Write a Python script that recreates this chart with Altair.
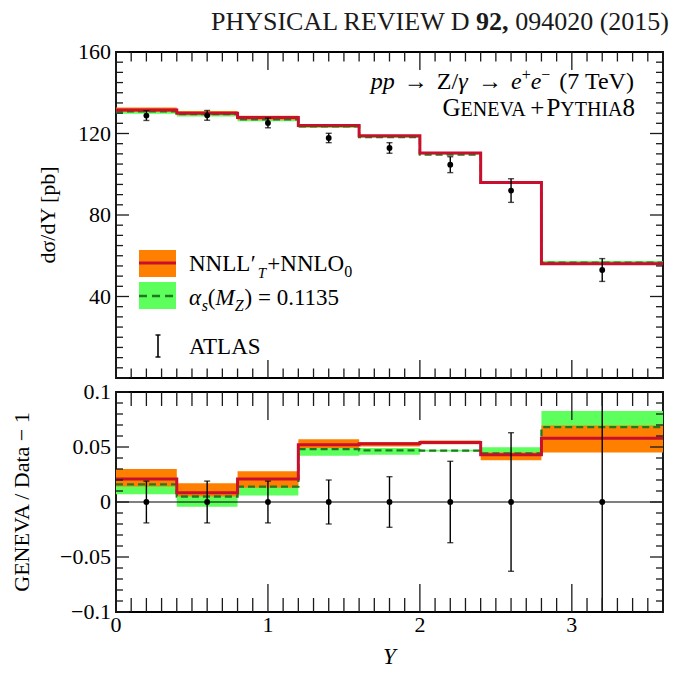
import altair as alt
import pandas as pd

# ---------------- data ----------------
BIN_EDGES = [0.0, 0.4, 0.8, 1.2, 1.6, 2.0, 2.4, 2.8, 3.6]
BIN_CENTERS = [0.2, 0.6, 1.0, 1.4, 1.8, 2.2, 2.6, 3.2]

ATLAS_XS = [128.8, 128.9, 125.2, 117.8, 112.9, 104.7, 92.0, 53.0]
ATLAS_XS_ERR = [2.4, 2.4, 2.4, 2.3, 2.6, 3.9, 5.8, 5.6]
ATLAS_REL_ERR = [0.019, 0.019, 0.019, 0.020, 0.023, 0.037, 0.063, 0.11]
ATLAS_RATIO = [0.0, 0.0, 0.0, 0.0, 0.0, 0.0, 0.0, 0.0]

NNLL_XS = [131.5, 130.0, 127.8, 123.9, 118.9, 110.4, 96.0, 56.1]
NNLL_XS_LO = [130.5, 129.4, 126.8, 123.5, 118.5, 110.1, 95.5, 55.4]
NNLL_XS_HI = [132.7, 131.1, 128.7, 124.5, 119.1, 110.6, 96.1, 56.7]
AS_XS = [130.9, 129.5, 127.0, 123.5, 118.2, 109.6, 96.0, 56.6]
AS_XS_LO = [129.7, 128.4, 126.0, 122.7, 117.8, 109.5, 95.9, 55.9]
AS_XS_HI = [131.9, 130.4, 127.7, 124.0, 118.4, 109.7, 96.6, 57.4]

NNLL_R = [0.021, 0.0085, 0.021, 0.052, 0.053, 0.054, 0.043, 0.058]
NNLL_R_LO = [0.014, 0.005, 0.013, 0.049, 0.0505, 0.0525, 0.038, 0.045]
NNLL_R_HI = [0.030, 0.017, 0.028, 0.057, 0.0545, 0.0558, 0.045, 0.0695]
AS_R = [0.016, 0.005, 0.014, 0.048, 0.047, 0.0467, 0.0442, 0.068]
AS_R_LO = [0.007, -0.0043, 0.006, 0.042, 0.043, 0.0458, 0.042, 0.055]
AS_R_HI = [0.024, 0.012, 0.020, 0.052, 0.049, 0.0476, 0.0497, 0.0827]

X_MAJOR = [0, 1, 2, 3]
X_LABELS = ["0", "1", "2", "3"]
X_MINOR = [round(i * 0.1, 1) for i in range(37) if i % 10 != 0]
Y1_MAJOR = [0, 40, 80, 120, 160]
Y1_LABEL_VALUES = [40, 80, 120, 160]
Y1_LABELS = ["40", "80", "120", "160"]
Y1_MINOR = [v for v in range(0, 161, 5) if v % 40 != 0]
Y2_MAJOR = [-0.1, -0.05, 0.0, 0.05, 0.1]
Y2_LABELS = ["−0.1", "−0.05", "0", "0.05", "0.1"]
Y2_MINOR = [round(i * 0.01, 2) for i in range(-10, 11) if i % 5 != 0]

# ---------------- style ----------------
W, H1, H2 = 547, 326, 220
FONT = "Liberation Serif"
ORANGE = "#ff8000"
GREEN = "#5cff5c"
RED = "#c8102e"
DKGREEN = "#1f7a1f"
INK = "#1a1a1a"

XS = alt.Scale(domain=[0, 3.6], nice=False, zero=False)
YS1 = alt.Scale(domain=[0, 160], nice=False, zero=False)
YS2 = alt.Scale(domain=[-0.1, 0.1], nice=False, zero=False)
ONE = pd.DataFrame({"a": [0]})

REG = {'N': .722, 'L': .611, 'O': .722, '+': .564, '(': .333, ')': .333, '=': .564,
       ' ': .25, '.': .25, 'A': .722, 'T': .611, 'S': .556, 'G': .722, 'E': .611,
       'V': .722, 'P': .556, 'Y': .722, 'H': .722, 'I': .333, 'Z': .611, '/': .278,
       'e': .444, '→': 1.0, '′': .3, '−': .564}
ITA = {'p': .5, 'e': .444, 'α': .55, 's': .389, 'M': .833, 'Z': .556, 'T': .556, 'γ': .45}


def tw(text, size, italic=False):
    table = ITA if italic else REG
    return sum(table.get(c, REG.get(c, .5)) for c in text) * size


def txt(text, x, y, size, italic=False, bold=False, align="left", color="black",
        baseline="alphabetic", angle=0):
    return alt.Chart(ONE).mark_text(
        text=text, font=FONT, fontSize=size, align=align, baseline=baseline, angle=angle,
        fontStyle="italic" if italic else "normal",
        fontWeight="bold" if bold else "normal", color=color,
    ).encode(x=alt.value(x), y=alt.value(y))


def run(parts, x0, y0):
    layers, x = [], x0
    for text, size, italic, dy, gap in parts:
        layers.append(txt(text, x, y0 + dy, size, italic))
        x += tw(text, size, italic) + gap
    return layers


def run_width(parts):
    return sum(tw(t, s, i) + g for t, s, i, d, g in parts)


def steps(cols):
    rows = []
    for i, e in enumerate(BIN_EDGES):
        j = min(i, len(BIN_CENTERS) - 1)
        row = {"x": e}
        for k, v in cols.items():
            row[k] = v[j]
        rows.append(row)
    return pd.DataFrame(rows)


def tick_layers(yscale, ymaj, ymin, H, lx_maj, lx_min, ly_maj=13, ly_min=7):
    layers = []
    for vals, L in ((X_MAJOR, lx_maj), (X_MINOR, lx_min)):
        base = alt.Chart(pd.DataFrame({"v": vals})).mark_rule(color=INK, strokeWidth=1.3)
        xe = alt.X("v:Q", scale=XS, axis=None)
        layers.append(base.encode(x=xe, y=alt.value(0), y2=alt.value(L)))
        layers.append(base.encode(x=xe, y=alt.value(H - L), y2=alt.value(H)))
    for vals, L in ((ymaj, ly_maj), (ymin, ly_min)):
        base = alt.Chart(pd.DataFrame({"v": vals})).mark_rule(color=INK, strokeWidth=1.3)
        ye = alt.Y("v:Q", scale=yscale, axis=None)
        layers.append(base.encode(y=ye, x=alt.value(0), x2=alt.value(L)))
        layers.append(base.encode(y=ye, x=alt.value(W - L), x2=alt.value(W)))
    return layers


def y_labels(values, labels, yscale):
    df = pd.DataFrame({"v": values, "t": labels})
    return alt.Chart(df).mark_text(font=FONT, fontSize=22, align="right", baseline="middle",
                                   color="black").encode(
        y=alt.Y("v:Q", scale=yscale, axis=None), x=alt.value(-5), text="t:N")


def x_labels(H):
    df = pd.DataFrame({"v": X_MAJOR, "t": X_LABELS})
    return alt.Chart(df).mark_text(font=FONT, fontSize=22, align="center", baseline="top",
                                   color="black").encode(
        x=alt.X("v:Q", scale=XS, axis=None), y=alt.value(H + 3), text="t:N")


def theory_layers(df, yscale):
    xe = alt.X("x:Q", scale=XS, axis=None)
    return [
        alt.Chart(df).mark_area(interpolate="step-after", color=GREEN, opacity=1, clip=True)
        .encode(x=xe, y=alt.Y("as_lo:Q", scale=yscale, axis=None), y2="as_hi:Q"),
        alt.Chart(df).mark_area(interpolate="step-after", color=ORANGE, opacity=1, clip=True)
        .encode(x=xe, y=alt.Y("nnll_lo:Q", scale=yscale, axis=None), y2="nnll_hi:Q"),
    ], [
        alt.Chart(df).mark_line(interpolate="step-after", color=DKGREEN, strokeWidth=2.3,
                                strokeDash=[7, 4], clip=True)
        .encode(x=xe, y=alt.Y("as:Q", scale=yscale, axis=None)),
        alt.Chart(df).mark_line(interpolate="step-after", color=RED, strokeWidth=3, clip=True)
        .encode(x=xe, y=alt.Y("nnll:Q", scale=yscale, axis=None)),
    ]


def data_layers(df, yscale):
    xe = alt.X("x:Q", scale=XS, axis=None)
    return [
        alt.Chart(df).mark_rule(color="black", strokeWidth=1.4, clip=True)
        .encode(x=xe, y=alt.Y("lo:Q", scale=yscale, axis=None), y2="hi:Q"),
        alt.Chart(df).mark_tick(orient="horizontal", size=6, thickness=1.4, color="black", clip=True)
        .encode(x=xe, y=alt.Y("lo:Q", scale=yscale, axis=None)),
        alt.Chart(df).mark_tick(orient="horizontal", size=6, thickness=1.4, color="black", clip=True)
        .encode(x=xe, y=alt.Y("hi:Q", scale=yscale, axis=None)),
        alt.Chart(df).mark_circle(size=34, color="black", opacity=1)
        .encode(x=xe, y=alt.Y("y:Q", scale=yscale, axis=None)),
    ]


# ---------------- top panel ----------------
top_df = steps({"nnll": NNLL_XS, "nnll_lo": NNLL_XS_LO, "nnll_hi": NNLL_XS_HI,
                "as": AS_XS, "as_lo": AS_XS_LO, "as_hi": AS_XS_HI})
top_pts = pd.DataFrame({"x": BIN_CENTERS, "y": ATLAS_XS,
                        "lo": [v - e for v, e in zip(ATLAS_XS, ATLAS_XS_ERR)],
                        "hi": [v + e for v, e in zip(ATLAS_XS, ATLAS_XS_ERR)]})

bands1, lines1 = theory_layers(top_df, YS1)

# legend (inside the top panel)
LX0 = 73
legend = [
    alt.Chart(ONE).mark_rect(color=ORANGE).encode(
        x=alt.value(23), x2=alt.value(60), y=alt.value(198), y2=alt.value(225)),
    alt.Chart(ONE).mark_rule(color=RED, strokeWidth=3).encode(
        x=alt.value(23), x2=alt.value(60), y=alt.value(211)),
    alt.Chart(ONE).mark_rect(color=GREEN).encode(
        x=alt.value(23), x2=alt.value(60), y=alt.value(230), y2=alt.value(257)),
    alt.Chart(ONE).mark_rule(color=DKGREEN, strokeWidth=2.3, strokeDash=[8, 5]).encode(
        x=alt.value(23), x2=alt.value(60), y=alt.value(244)),
    alt.Chart(ONE).mark_rule(color="black", strokeWidth=1.6).encode(
        x=alt.value(42), y=alt.value(283), y2=alt.value(305)),
    alt.Chart(ONE).mark_rule(color="black", strokeWidth=1.4).encode(
        x=alt.value(39.5), x2=alt.value(44.5), y=alt.value(283)),
    alt.Chart(ONE).mark_rule(color="black", strokeWidth=1.4).encode(
        x=alt.value(39.5), x2=alt.value(44.5), y=alt.value(305)),
]
w_nnll = tw("NNLL", 23)
legend += [
    txt("NNLL", LX0, 219, 23),
    txt("′", LX0 + w_nnll + 0.5, 219, 23),
    txt("T", LX0 + w_nnll + 7.5, 226, 15, italic=True),
    txt("+NNLO", LX0 + w_nnll + 17, 219, 23),
    txt("0", LX0 + w_nnll + 17 + tw("+NNLO", 23), 225, 16),
]
legend += run([("α", 23, True, 0, 0), ("s", 16, True, 6, 0), ("(", 23, False, 0, 0),
               ("M", 23, True, 0, 0), ("Z", 16, True, 6, 1), (") = 0.1135", 23, False, 0, 0)],
              LX0, 252.5)
legend.append(txt("ATLAS", LX0, 302, 23))

# process annotation
ann_parts = [("pp", 24, True, 0, 9), ("→", 24, False, 0, 9), ("Z/", 24, False, 0, 0),
             ("γ", 24, True, 0, 9), ("→", 24, False, 0, 9), ("e", 24, True, 0, 0),
             ("+", 16, False, -9, 0), ("e", 24, True, 0, 0), ("−", 16, False, -9, 9),
             ("(7 TeV)", 24, False, 0, 0)]
annot = run(ann_parts, 520 - run_width(ann_parts), 37)
gen_parts = [("G", 25, False, 0, 0), ("ENEVA", 20, False, 0, 2), ("+", 25, False, 0, 2),
             ("P", 25, False, 0, 0), ("YTHIA", 20, False, 0, 0), ("8", 25, False, 0, 0)]
annot += run(gen_parts, 519 - run_width(gen_parts), 64)

# journal header
header = [
    txt("PHYSICAL REVIEW D", 353.5, -22, 26, align="right", color=INK),
    txt("92,", 392.5, -22, 26, bold=True, align="right", color=INK),
    txt("094020 (2015)", 553, -22, 26, align="right", color=INK),
]

top_axis = [
    y_labels(Y1_LABEL_VALUES, Y1_LABELS, YS1),
    txt("dσ/dY [pb]", -68, H1 / 2, 22, align="center", baseline="middle", angle=270),
]

top = alt.layer(
    *bands1, *lines1, *data_layers(top_pts, YS1),
    *tick_layers(YS1, Y1_MAJOR, Y1_MINOR, H1, 18, 9.5),
    *top_axis, *legend, *annot, *header,
).properties(width=W, height=H1)

# ---------------- ratio panel ----------------
bot_df = steps({"nnll": NNLL_R, "nnll_lo": NNLL_R_LO, "nnll_hi": NNLL_R_HI,
                "as": AS_R, "as_lo": AS_R_LO, "as_hi": AS_R_HI})
bot_pts = pd.DataFrame({"x": BIN_CENTERS, "y": ATLAS_RATIO,
                        "lo": [r - e for r, e in zip(ATLAS_RATIO, ATLAS_REL_ERR)],
                        "hi": [r + e for r, e in zip(ATLAS_RATIO, ATLAS_REL_ERR)]})

bands2, lines2 = theory_layers(bot_df, YS2)
zero_line = alt.Chart(ONE).mark_rule(color="black", strokeWidth=1.2).encode(
    y=alt.Y(datum=0, scale=YS2, axis=None))

bottom_axis = [
    y_labels(Y2_MAJOR, Y2_LABELS, YS2),
    x_labels(H2),
    txt("GENEVA / Data − 1", -94, H2 / 2, 22, align="center", baseline="middle", angle=270),
    txt("Y", W / 2, H2 + 45, 23, italic=True, align="center", baseline="middle"),
]

bottom = alt.layer(
    *bands2, zero_line, *lines2, *data_layers(bot_pts, YS2),
    *tick_layers(YS2, Y2_MAJOR, Y2_MINOR, H2, 28, 14),
    *bottom_axis,
).properties(width=W, height=H2)

chart = alt.vconcat(top, bottom, spacing=0).properties(
    padding={"left": 2, "top": 0, "right": 0, "bottom": 5}
).configure(font=FONT).configure_view(stroke="black", strokeWidth=1.8)

chart.save("out.html", embed_options={"renderer": "svg", "actions": False})
